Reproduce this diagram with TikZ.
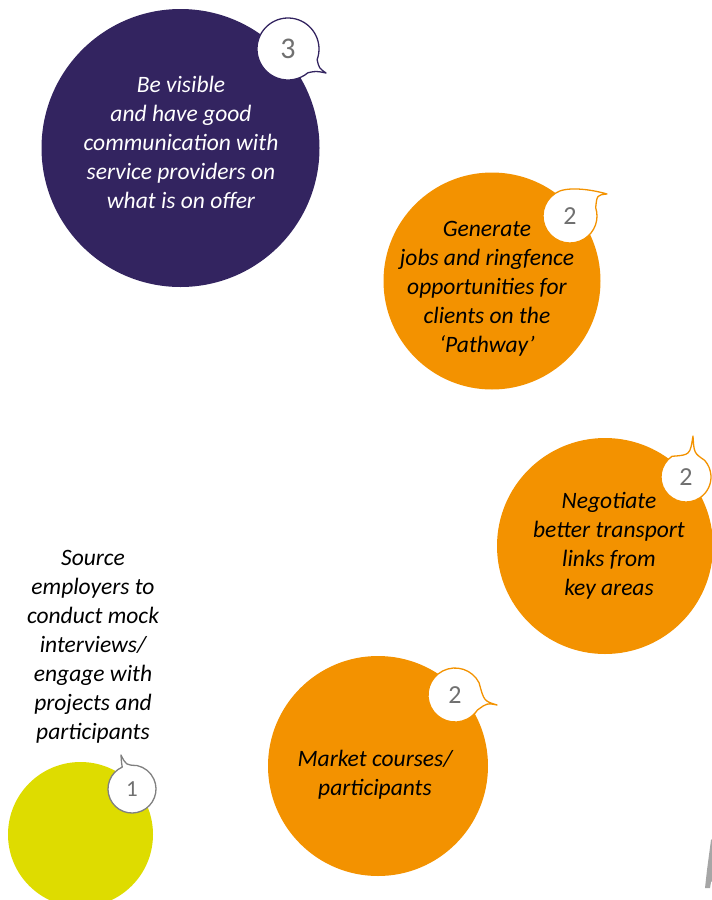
\documentclass[tikz,border=0pt]{standalone}
\usepackage{fontspec}
\setmainfont{Carlito}
\usetikzlibrary{calc}

\definecolor{deeppurple}{RGB}{51,36,96}
\definecolor{brightorange}{RGB}{243,146,0}
\definecolor{limeyellow}{RGB}{222,220,0}
\definecolor{numgrey}{RGB}{112,112,112}
\definecolor{rimgrey}{RGB}{128,128,128}
\definecolor{shardgrey}{RGB}{166,166,166}

\tikzset{
  disc/.style={circle, inner sep=0pt, minimum size=#1},
  bodytext/.style={font=\fontsize{23.5}{29}\selectfont\itshape, align=center, inner sep=0pt},
  bubble/.style={draw=#1, fill=white, line width=1.3pt, line join=round},
  numtext/.style={text=numgrey, inner sep=0pt, font=\fontsize{#1}{#1}\selectfont}
}

\begin{document}
\begin{tikzpicture}[x=1pt,y=1pt]
\useasboundingbox (0,0) rectangle (712,-900);

% main discs
\node[disc=278pt, fill=deeppurple] (visible) at (180.5,-148) {};
\node[disc=217pt, fill=brightorange] (jobs) at (492,-281) {};
\node[disc=216pt, fill=brightorange] (transport) at (605,-546) {};
\node[disc=220pt, fill=brightorange] (market) at (378,-766) {};
\node[disc=145pt, fill=limeyellow] (source) at (80.5,-834.5) {};

% disc captions
\node[bodytext, text=white] (visibletext) at (181,-142)
  {Be visible\\and have good\\communication with\\service providers on\\what is on offer};
\node[bodytext, text=black] (jobstext) at (487,-288.5)
  {Generate\\jobs and ringfence\\opportunities for\\clients on the\\‘Pathway’};
\node[bodytext, text=black] (transporttext) at (609,-546)
  {Negotiate\\better transport\\links from\\key areas};
\node[bodytext, text=black] (markettext) at (375,-775)
  {Market courses/\\participants};
\node[bodytext, text=black] (sourcetext) at (93,-647)
  {Source\\employers to\\conduct mock\\interviews/\\engage with\\projects and\\participants};

% speech bubble badges: arc the long way round, then out to the tip and back
% badge 3
\coordinate (b3c) at (288,-49);
\coordinate (b3tip) at (326,-73);
\coordinate (b3start) at ($(b3c)+(-20:31pt)$);
\draw[bubble=deeppurple] (b3start) arc[start angle=-20, end angle=310, radius=31pt]
  .. controls (316,-71) .. (b3tip) .. controls (319,-68) .. (b3start) -- cycle;
\node[numtext=30] (n3) at (b3c) {3};

% badge 2 on the jobs disc
\coordinate (b2ac) at (570,-216);
\coordinate (b2atip) at (607,-194);
\coordinate (b2astart) at ($(b2ac)+(123:27pt)$);
\draw[bubble=brightorange] (b2astart) arc[start angle=123, end angle=378, radius=27pt]
  .. controls (597,-195) .. (b2atip) .. controls (590,-189) and (565,-186) .. (b2astart) -- cycle;
\node[numtext=26] (n2a) at (b2ac) {2};

% badge 2 on the transport disc
\coordinate (b2bc) at (686,-477);
\coordinate (b2btip) at (693,-436);
\coordinate (b2bstart) at ($(b2bc)+(124:25pt)$);
\draw[bubble=brightorange] (b2bstart) arc[start angle=124, end angle=402, radius=25pt]
  .. controls (694,-453) .. (b2btip) .. controls (690,-455) .. (b2bstart) -- cycle;
\node[numtext=26] (n2b) at (b2bc) {2};

% badge 2 on the market disc
\coordinate (b2cc) at (455,-695);
\coordinate (b2ctip) at (497,-705);
\coordinate (b2cstart) at ($(b2cc)+(27:27pt)$);
\draw[bubble=brightorange] (b2cstart) arc[start angle=27, end angle=326, radius=27pt]
  .. controls (487,-703) .. (b2ctip) .. controls (484,-701) .. (b2cstart) -- cycle;
\node[numtext=26] (n2c) at (b2cc) {2};

% badge 1 on the source disc
\coordinate (b1c) at (132,-789);
\coordinate (b1tip) at (121,-755);
\coordinate (b1start) at ($(b1c)+(114:24pt)$);
\draw[bubble=rimgrey] (b1start) arc[start angle=114, end angle=438, radius=24pt]
  .. controls (126,-765) .. (b1tip) .. controls (121.5,-763) .. (b1start) -- cycle;
\node[numtext=23] (n1) at (b1c) {1};

% grey sliver at the lower right edge
\fill[shardgrey] (711,-840) -- (713,-838) -- (713,-880) -- (711,-882)
  -- (710,-888) -- (705,-888) -- (707,-870) -- cycle;
\end{tikzpicture}
\end{document}
